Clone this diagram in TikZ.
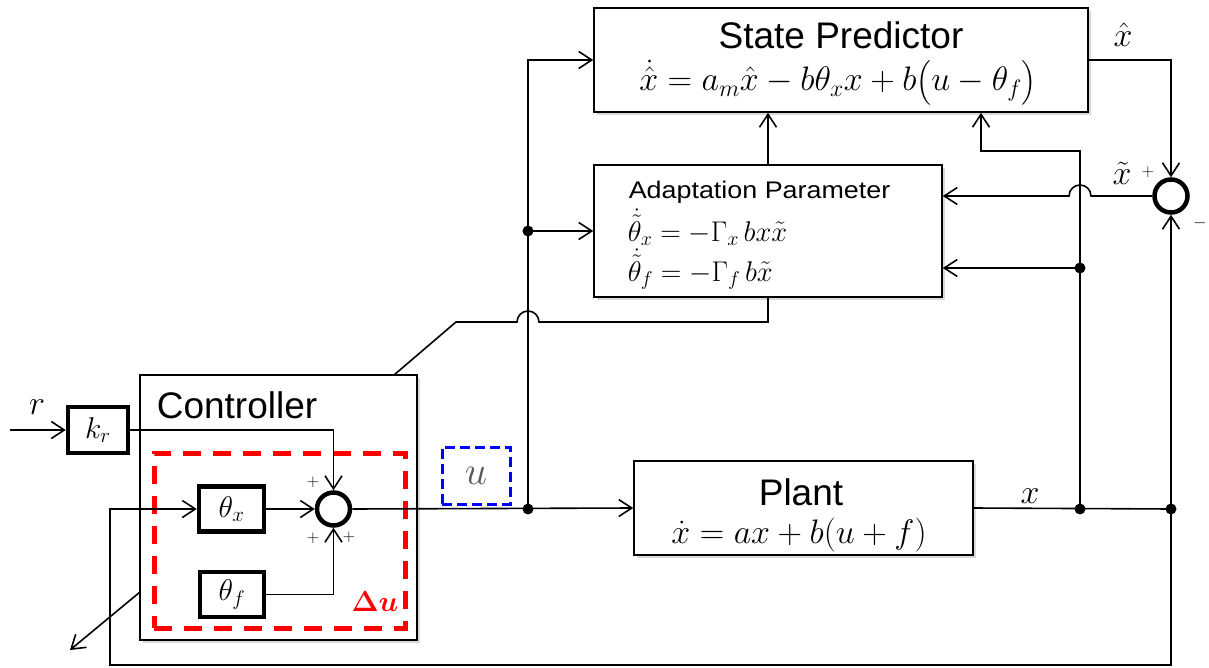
\RequirePackage{fix-cm}
\documentclass[tikz,border=0pt]{standalone}
\usepackage{amsmath}
\usepackage{bm}
\usepackage{fontspec}
\setmainfont{Liberation Sans}
\usepackage{graphicx}
\usetikzlibrary{arrows.meta,shadows,calc}

\newcommand{\fsz}[1]{\fontsize{#1}{#1}\selectfont}

\begin{document}
\begin{tikzpicture}[x=1pt,y=-1pt,
  line width=1.6pt,
  arr/.style={-{Straight Barb[length=13pt,width=17pt,line width=1.6pt]}},
  blockbox/.style={draw, fill=white, line width=1.6pt, inner sep=0pt,
    drop shadow={shadow xshift=3pt, shadow yshift=-3pt, opacity=0.3}},
  gainbox/.style={draw, fill=white, line width=4.5pt, inner sep=0pt, font=\fsz{30}},
  sumnode/.style={circle, draw, fill=white, line width=4.5pt, inner sep=0pt, minimum size=33pt},
  jdot/.style={circle, fill=black, inner sep=0pt, minimum size=11pt},
  sign/.style={font=\fsz{17}, inner sep=0pt},
  lbl/.style={font=\fsz{34}, anchor=base, inner sep=0pt}
]
\useasboundingbox (0,0) rectangle (1209,668);

% ---- main blocks ----
\node[blockbox, minimum width=494pt, minimum height=104pt] (sp) at (841,60) {};
\node[font=\fsz{37}, anchor=base, inner sep=0pt] (spt) at (841,49) {State Predictor};
\node[font=\fsz{34}, anchor=base, inner sep=0pt] (spe) at (838,91)
  {$\dot{\hat{x}} = a_m\hat{x} - b\theta_x x + b\bigl(u-\theta_f\bigr)$};

\node[blockbox, minimum width=348pt, minimum height=132pt] (ap) at (768,231) {};
\node[anchor=base west, inner sep=0pt] (apt) at (628,199)
  {\scalebox{1.12}[1]{\fsz{24}Adaptation Parameter}};
\node[anchor=base west, inner sep=0pt, font=\fsz{28.5}] (ape1) at (627,241)
  {$\dot{\tilde{\theta}}_x = -\Gamma_x\, bx\tilde{x}$};
\node[anchor=base west, inner sep=0pt, font=\fsz{28.5}] (ape2) at (627,281)
  {$\dot{\tilde{\theta}}_f = -\Gamma_f\, b\tilde{x}$};

\node[blockbox, minimum width=339pt, minimum height=94pt] (pl) at (803.5,508) {};
\node[font=\fsz{37}, anchor=base, inner sep=0pt] (plt) at (801,505) {Plant};
\node[font=\fsz{34}, anchor=base, inner sep=0pt] (ple) at (799,543)
  {$\dot{x} = ax + b(u+f)$};

\node[blockbox, minimum width=277pt, minimum height=265pt] (ctrl) at (278.5,507.5) {};
\node[font=\fsz{37}, anchor=base west, inner sep=0pt] (ctt) at (156,418) {Controller};

% ---- controller internals ----
\node[draw=red, line width=5pt, dash pattern=on 18pt off 12pt,
  minimum width=251pt, minimum height=175pt, inner sep=0pt] (du) at (279.5,540.5) {};
\node[text=red, font=\fsz{29}, anchor=base, inner sep=0pt] (dul) at (375,611) {$\bm{\Delta u}$};

\node[gainbox, minimum width=60pt, minimum height=46pt] (kr) at (98,430) {$k_r$};
\node[gainbox, minimum width=65pt, minimum height=45pt] (tx) at (231.5,509) {$\theta_x$};
\node[gainbox, minimum width=64pt, minimum height=45pt] (tf) at (232,594.5) {$\theta_f$};
\node[sumnode] (s1) at (333.5,509) {};
\node[sumnode] (s2) at (1171,196) {};

\node[draw=blue, line width=3pt, dash pattern=on 10pt off 5pt,
  minimum width=68pt, minimum height=57pt, inner sep=0pt,
  text=black!65, font=\fsz{40}] (ub) at (476,475.5) {$u$};

% ---- junctions and bend points ----
\node[jdot] (j0) at (528,509) {};
\node[jdot] (j3) at (528,231) {};
\node[jdot] (j1) at (1080,509) {};
\node[jdot] (j4) at (1080,268) {};
\node[jdot] (j2) at (1171,509) {};
\coordinate (rin) at (10,430);
\coordinate (bl) at (110,665);
\coordinate (k1) at (981,151);
\coordinate (c0) at (394,375);
\coordinate (c1) at (456,322);
\coordinate (k2) at (768,322);
\coordinate (dsrc) at (140,592);
\coordinate (dout) at (70,650);

% ---- connectors ----
\draw[arr] (rin) -- (kr.west);
\draw[arr] (kr.east) -| (s1.north);
\draw[arr] (tx.east) -- (s1.west);
\draw[arr] (tf.east) -| (s1.south);
\draw[arr] (s1.east) -- (pl.west);
\draw[arr] (j0.center) |- (sp.west);
\draw[arr] (j3.center) -- (ap.west);
\draw (pl.east) -- (j2.center);
\draw[arr] (j1.center) |- (k1) -- (k1 |- sp.south);
\draw[arr] (j4.center) -- (j4 -| ap.east);
\draw[arr] (ap.north) -- (ap.north |- sp.south);
\draw[arr] (sp.east) -| (s2.north);
\draw[arr] (j2.center) -- (s2.south);
\draw[arr] (s2.west) -- (1091,196) arc[start angle=0, end angle=180, radius=11pt]
  -- (s2.west -| ap.east);
\draw[arr] (j2.center) |- (bl) |- (tx.west);
\draw (c0) -- (c1) -- (517,322) arc[start angle=180, end angle=0, radius=11pt]
  -- (k2) -- (ap.south);
\draw[arr] (dsrc) -- (dout);

% ---- signal labels ----
\node[lbl] (lr) at (37,414) {$r$};
\node[lbl] (lx) at (1030,503) {$x$};
\node[lbl] (lxh) at (1123,47) {$\hat{x}$};
\node[lbl] (lxt) at (1122,185) {$\tilde{x}$};
\node[sign] (p4) at (1148,172) {$+$};
\node[sign] (m1) at (1200,223) {$-$};
\node[sign] (p1) at (313,482) {$+$};
\node[sign] (p2) at (313,538) {$+$};
\node[sign] (p3) at (349,537) {$+$};
\end{tikzpicture}
\end{document}
